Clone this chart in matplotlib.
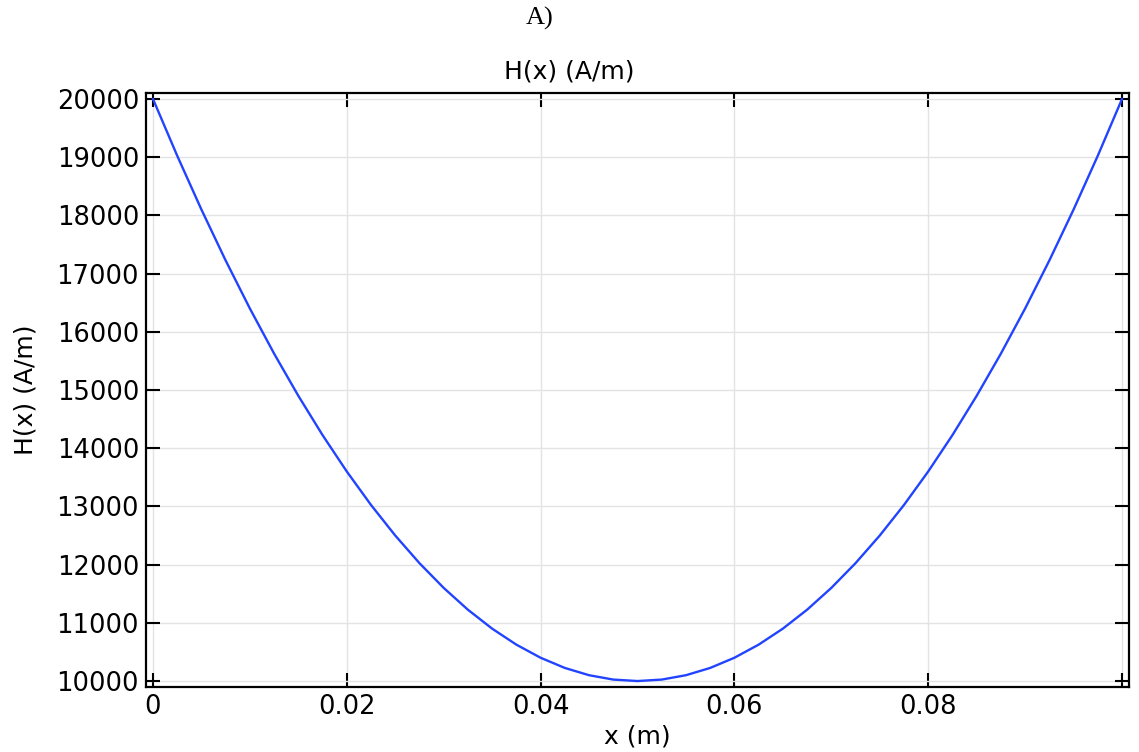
import matplotlib
matplotlib.use("Agg")
import matplotlib.pyplot as plt

plt.rcParams["font.family"] = ["DejaVu Sans"]

# values (every 2.5 mm)
x_m = [0.0, 0.0025, 0.005, 0.0075, 0.01, 0.0125, 0.015, 0.0175, 0.02, 0.0225,
       0.025, 0.0275, 0.03, 0.0325, 0.035, 0.0375, 0.04, 0.0425, 0.045, 0.0475,
       0.05, 0.0525, 0.055, 0.0575, 0.06, 0.0625, 0.065, 0.0675, 0.07, 0.0725,
       0.075, 0.0775, 0.08, 0.0825, 0.085, 0.0875, 0.09, 0.0925, 0.095, 0.0975, 0.1]
h_am = [20000, 19025, 18100, 17225, 16400, 15625, 14900, 14225, 13600, 13025,
        12500, 12025, 11600, 11225, 10900, 10625, 10400, 10225, 10100, 10025,
        10000, 10025, 10100, 10225, 10400, 10625, 10900, 11225, 11600, 12025,
        12500, 13025, 13600, 14225, 14900, 15625, 16400, 17225, 18100, 19025, 20000]

x_ticks = [0, 0.02, 0.04, 0.06, 0.08, 0.1]
x_tick_labels = ["0", "0.02", "0.04", "0.06", "0.08", ""]
y_ticks = list(range(10000, 20001, 1000))

fig = plt.figure(figsize=(11.39, 7.52), dpi=100)
ax = fig.add_axes([0.1282, 0.0864, 0.9912 - 0.1282, 0.8763 - 0.0864])

ax.plot(x_m, h_am, color="#2244ff", lw=1.7)

ax.set_xlim(-0.00072, 0.10072)
ax.set_ylim(9897, 20103)
ax.set_xticks(x_ticks)
ax.set_xticklabels(x_tick_labels)
ax.set_yticks(y_ticks)
ax.grid(color="#e3e3e3", lw=1)
ax.tick_params(direction="in", length=10, width=1.5, labelsize=18.5,
               top=True, right=True, pad=5)
for s in ax.spines.values():
    s.set_linewidth(1.6)

fig.text(0.5, 0.905, "H(x) (A/m)", fontsize=18, ha="center", va="center")
ax.set_xlabel("x (m)", fontsize=18, labelpad=3)
ax.set_ylabel("H(x) (A/m)", fontsize=18, labelpad=14)

fig.text(0.474, 0.975, "A)", family="Liberation Serif", fontsize=19,
         ha="center", va="center")

fig.savefig("out.png", dpi=100)
